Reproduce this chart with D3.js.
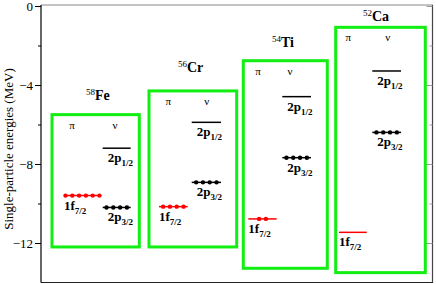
<!DOCTYPE html>
<html>
<head>
<meta charset="utf-8">
<script src="https://cdn.jsdelivr.net/npm/d3@7/dist/d3.min.js"></script>
<style>
body { margin: 0; background: #fff; }
svg text { font-family: "Liberation Serif", "Times New Roman", serif !important; }
</style>
</head>
<body>
<script>
(function(){
'use strict';

// data (MeV)
var nuclei = ['Fe', 'Cr', 'Ti', 'Ca'];
var masses = ['58', '56', '54', '52'];
var pi1f72 = [-9.6, -10.16, -10.78, -11.46];
var nu2p32 = [-10.2, -8.93, -7.68, -6.4];
var nu2p12 = [-7.2, -5.89, -4.59, -3.29];
var piOcc = [6, 4, 2, 0];
var nu32Occ = [4, 4, 4, 4];
var nu12Occ = [0, 0, 0, 0];
var boxTop = [-5.5, -4.3, -2.77, -1.08];
var boxBottom = [-12.2, -12.2, -13.28, -13.5];
var yTicks = [0, -4, -8, -12];
var yMinor = [-2, -6, -10];

// layout (x in plot units from left axis)
var boxLeft = [11, 108, 202.3, 294.7];
var boxRight = [98.3, 195.7, 286.3, 384.3];
var piLine = [[23, 60], [118, 146.7], [207.3, 235.7], [298, 325.7]];
var nuLine = [[61.7, 89.7], [150.7, 180], [241.3, 270], [331.3, 360]];
var piSym = [31, 127.3, 217, 307.3];
var nuSym = [74, 165.7, 249, 346.7];
var titleX = [45, 137, 231, 322];
var titleDy = [-14.7, -18.5, -13.3, -6];

var width = 436, height = 284;
var left = 41, top = 5, right = 432, bottom = 282.5;

var svg = d3.select('body').append('svg')
	.attr('width', width)
	.attr('height', height)
	.attr('font-family', '"Liberation Serif", serif');

var x = d3.scaleLinear().domain([0, right - left]).range([left, right]);
var y = d3.scaleLinear().domain([-14, 0]).range([bottom, 6]);

// frame
svg.append('line').attr('x1', left).attr('x2', right + 1).attr('y1', top).attr('y2', top)
	.attr('stroke', '#888').attr('stroke-width', 1);
svg.append('line').attr('x1', right + 0.5).attr('x2', right + 0.5).attr('y1', top).attr('y2', bottom)
	.attr('stroke', '#444').attr('stroke-width', 1.2);
svg.append('line').attr('x1', left).attr('x2', right + 1).attr('y1', bottom).attr('y2', bottom)
	.attr('stroke', '#222').attr('stroke-width', 1.2);

// right axis ticks (inside)
var rAxis = svg.append('g').attr('transform', 'translate(' + (right + 0.5) + ',0)');
rAxis.append('g').call(d3.axisLeft(y).tickValues(yTicks).tickSize(6).tickFormat(''));
rAxis.append('g').call(d3.axisLeft(y).tickValues(yMinor).tickSize(3).tickFormat(''));
rAxis.selectAll('path').remove();
rAxis.selectAll('line').attr('stroke', '#999');

// left axis
var lAxis = svg.append('g').attr('transform', 'translate(' + left + ',0)');
lAxis.append('g').call(d3.axisLeft(y).tickValues(yTicks).tickSize(6).tickPadding(2).tickFormat(d3.format('d')));
lAxis.append('g').call(d3.axisLeft(y).tickValues(yMinor).tickSize(3).tickFormat(''));
lAxis.selectAll('path').remove();
lAxis.selectAll('g').attr('font-family', null);
lAxis.append('line').attr('x1', 0).attr('x2', 0).attr('y1', top).attr('y2', bottom)
	.attr('stroke', '#000').attr('stroke-width', 1.2);
lAxis.selectAll('text').attr('font-size', 13).attr('fill', '#000');

svg.append('text')
	.attr('transform', 'translate(13,' + 149 + ') rotate(-90)')
	.attr('text-anchor', 'middle')
	.attr('font-size', 13)
	.text('Single-particle energies (MeV)');

function levelLabel(g, xs, yv, main, sub) {
	var t = g.append('text')
		.attr('x', xs).attr('y', y(yv) + 14)
		.attr('font-size', 13).attr('font-weight', 'bold');
	t.append('tspan').text(main);
	t.append('tspan').attr('font-size', 9).attr('dy', 4).text(sub);
}

function dots(g, ln, yv, n, color) {
	var c = (x(ln[0]) + x(ln[1])) / 2;
	var step = 6.8;
	var pts = d3.range(n).map(function(i){ return c + (i - (n - 1) / 2) * step; });
	g.selectAll(null).data(pts).enter().append('circle')
		.attr('cx', function(d){ return d; })
		.attr('cy', y(yv))
		.attr('r', 2.2)
		.attr('fill', color);
}

nuclei.forEach(function(name, i){
	var g = svg.append('g');

	g.append('rect')
		.attr('x', x(boxLeft[i])).attr('y', y(boxTop[i]))
		.attr('width', x(boxRight[i]) - x(boxLeft[i]))
		.attr('height', y(boxBottom[i]) - y(boxTop[i]))
		.attr('fill', 'none').attr('stroke', '#11ee11').attr('stroke-width', 3);

	var title = g.append('text')
		.attr('x', x(titleX[i])).attr('y', y(boxTop[i]) + titleDy[i]);
	title.append('tspan').attr('font-size', 9).attr('dy', -5).text(masses[i]);
	title.append('tspan').attr('font-size', 14).attr('font-weight', 'bold').attr('dy', 5).text(name);

	g.append('text').attr('x', x(piSym[i])).attr('y', y(boxTop[i]) + 14)
		.attr('text-anchor', 'middle').attr('font-size', 11).text('\u03c0');
	g.append('text').attr('x', x(nuSym[i])).attr('y', y(boxTop[i]) + 14)
		.attr('text-anchor', 'middle').attr('font-size', 11).text('\u03bd');

	// proton 1f7/2
	g.append('line')
		.attr('x1', x(piLine[i][0])).attr('x2', x(piLine[i][1]))
		.attr('y1', y(pi1f72[i])).attr('y2', y(pi1f72[i]))
		.attr('stroke', '#ff0000').attr('stroke-width', 1.5);
	dots(g, piLine[i], pi1f72[i], piOcc[i], '#ff0000');
	levelLabel(g, x(piLine[i][0]), pi1f72[i], '1f', '7/2');

	// neutron 2p3/2
	g.append('line')
		.attr('x1', x(nuLine[i][0])).attr('x2', x(nuLine[i][1]))
		.attr('y1', y(nu2p32[i])).attr('y2', y(nu2p32[i]))
		.attr('stroke', '#000').attr('stroke-width', 1.5);
	dots(g, nuLine[i], nu2p32[i], nu32Occ[i], '#000');
	levelLabel(g, x(nuLine[i][0]) + 5, nu2p32[i], '2p', '3/2');

	// neutron 2p1/2
	g.append('line')
		.attr('x1', x(nuLine[i][0])).attr('x2', x(nuLine[i][1]))
		.attr('y1', y(nu2p12[i])).attr('y2', y(nu2p12[i]))
		.attr('stroke', '#000').attr('stroke-width', 1.5);
	dots(g, nuLine[i], nu2p12[i], nu12Occ[i], '#000');
	levelLabel(g, x(nuLine[i][0]) + 5, nu2p12[i], '2p', '1/2');
});

})();
</script>
</body>
</html>
